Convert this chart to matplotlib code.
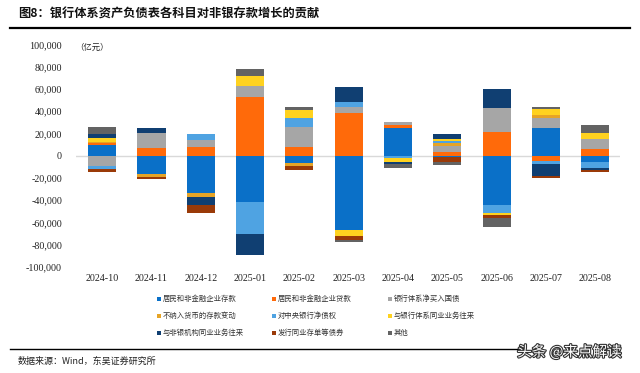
import matplotlib
matplotlib.use("Agg")
import matplotlib.pyplot as plt
import matplotlib.patheffects as pe
from matplotlib.patches import Rectangle
import numpy as np

plt.rcParams['font.family'] = ['Noto Sans CJK SC', 'DejaVu Sans']

months = ['2024-10', '2024-11', '2024-12', '2025-01', '2025-02', '2025-03',
          '2025-04', '2025-05', '2025-06', '2025-07', '2025-08']

deposits = [9900, -16800, -33900, -41400, -6900, -66900, 24600, -1000, -44400, 25200, -5400]
loans = [1500, 6900, 7500, 53100, 7500, 38100, 3000, 3000, 21000, -4800, 5700]
bonds = [-9500, 13500, 6600, 9600, 18600, 5400, 3000, 6000, 22200, 8400, 9300]
non_money = [1000, -2400, -3600, 0, -2100, 0, 0, 2500, 0, 3000, 0]
central_bank = [-2400, 0, 5700, -28500, 8100, 4800, -2400, 1500, -7500, -2700, -6000]
interbank_bank = [3500, 0, 0, 9000, 6900, -5100, -3600, 2500, -1500, 5400, 5100]
interbank_nonbank = [3900, 4500, -6900, -18900, 0, 13800, -1500, 4500, 16500, -10800, -1500]
cd_bonds = [-2300, -2100, -7500, 0, -3900, -3300, 0, -4500, -3000, -2100, -2100]
others = [6000, 0, 0, 6000, 2700, -2400, -3600, -3000, -7500, 2100, 7800]

series_names = ['居民和非金融企业存款', '居民和非金融企业贷款', '银行体系净买入国债',
                '不纳入货币的存款变动', '对中央银行净债权', '与银行体系同业业务往来',
                '与非银机构同业业务往来', '发行同业存单等债券', '其他']
series_values = [deposits, loans, bonds, non_money, central_bank, interbank_bank,
                 interbank_nonbank, cd_bonds, others]
colors = ['#0A70C8', '#FF6A0A', '#A6A6A6', '#E6A426', '#4FA3E2', '#FFD21F',
          '#103F72', '#9A3A08', '#636363']

yticks = [-100000, -80000, -60000, -40000, -20000, 0, 20000, 40000, 60000, 80000, 100000]

W, H = 640, 373
fig = plt.figure(figsize=(W / 100, H / 100), dpi=100)
ax = fig.add_axes([76 / W, 1 - 267 / H, (620 - 76) / W, (267 - 44.5) / H])

x = np.arange(len(months))
pos_bottom = np.zeros(len(months))
neg_bottom = np.zeros(len(months))
for name, vals, c in zip(series_names, series_values, colors):
    v = np.array(vals, dtype=float)
    pos = np.where(v > 0, v, 0)
    neg = np.where(v < 0, v, 0)
    ax.bar(x, pos, bottom=pos_bottom, width=0.57, color=c, linewidth=0, zorder=3, label=name)
    ax.bar(x, neg, bottom=neg_bottom, width=0.57, color=c, linewidth=0, zorder=3)
    pos_bottom += pos
    neg_bottom += neg

ax.axhline(0, color='#D9D9D9', linewidth=1.0, zorder=2)
ax.set_xlim(-0.53, 10.5)
ax.set_ylim(-100000, 100000)
ax.set_yticks(yticks)
ax.set_yticklabels([f"{v:,}" for v in yticks], family='Liberation Serif', fontsize=7.2, color='#222222')
ax.set_xticks(x)
ax.set_xticklabels(months, family='Liberation Serif', fontsize=7.2, color='#222222')
ax.tick_params(axis='y', length=0, pad=10)
ax.tick_params(axis='x', length=0, pad=5)
for s in ax.spines.values():
    s.set_visible(False)

fig.text(75 / W, 1 - 47 / H, '（亿元）', fontsize=6, ha='left', va='center', color='#222222')

# title
fig.text(18 / W, 1 - 14 / H, '图8：银行体系资产负债表各科目对非银存款增长的贡献',
         fontsize=8.8, fontweight='bold', ha='left', va='center', color='#111111')
fig.add_artist(plt.Line2D([10 / W, 630 / W], [1 - 28 / H, 1 - 28 / H], color='black', linewidth=1.6))

# legend (Excel row-wise order)
col_x = [157, 272, 388]
row_y = [299, 316, 333]
for i, (name, c) in enumerate(zip(series_names, colors)):
    r, k = divmod(i, 3)
    fig.add_artist(Rectangle((col_x[k] / W, (H - row_y[r] - 2) / H), 4 / W, 4 / H,
                             facecolor=c, edgecolor='none', transform=fig.transFigure))
    fig.text((col_x[k] + 6) / W, 1 - row_y[r] / H, name, fontsize=5.3, ha='left', va='center',
             color='#333333')

# source
fig.add_artist(plt.Line2D([10 / W, 520 / W], [1 - 349 / H, 1 - 349 / H], color='black', linewidth=1.0))
fig.text(18 / W, 1 - 361 / H, '数据来源：Wind，东吴证券研究所', fontsize=6.5, ha='left', va='center',
         color='#222222')
fig.text(622 / W, 1 - 352 / H, '头条 @来点解读', fontsize=10.5, ha='right', va='center', color='white',
         path_effects=[pe.withStroke(linewidth=1.6, foreground='#333333')])

fig.savefig('out.png', dpi=100)
